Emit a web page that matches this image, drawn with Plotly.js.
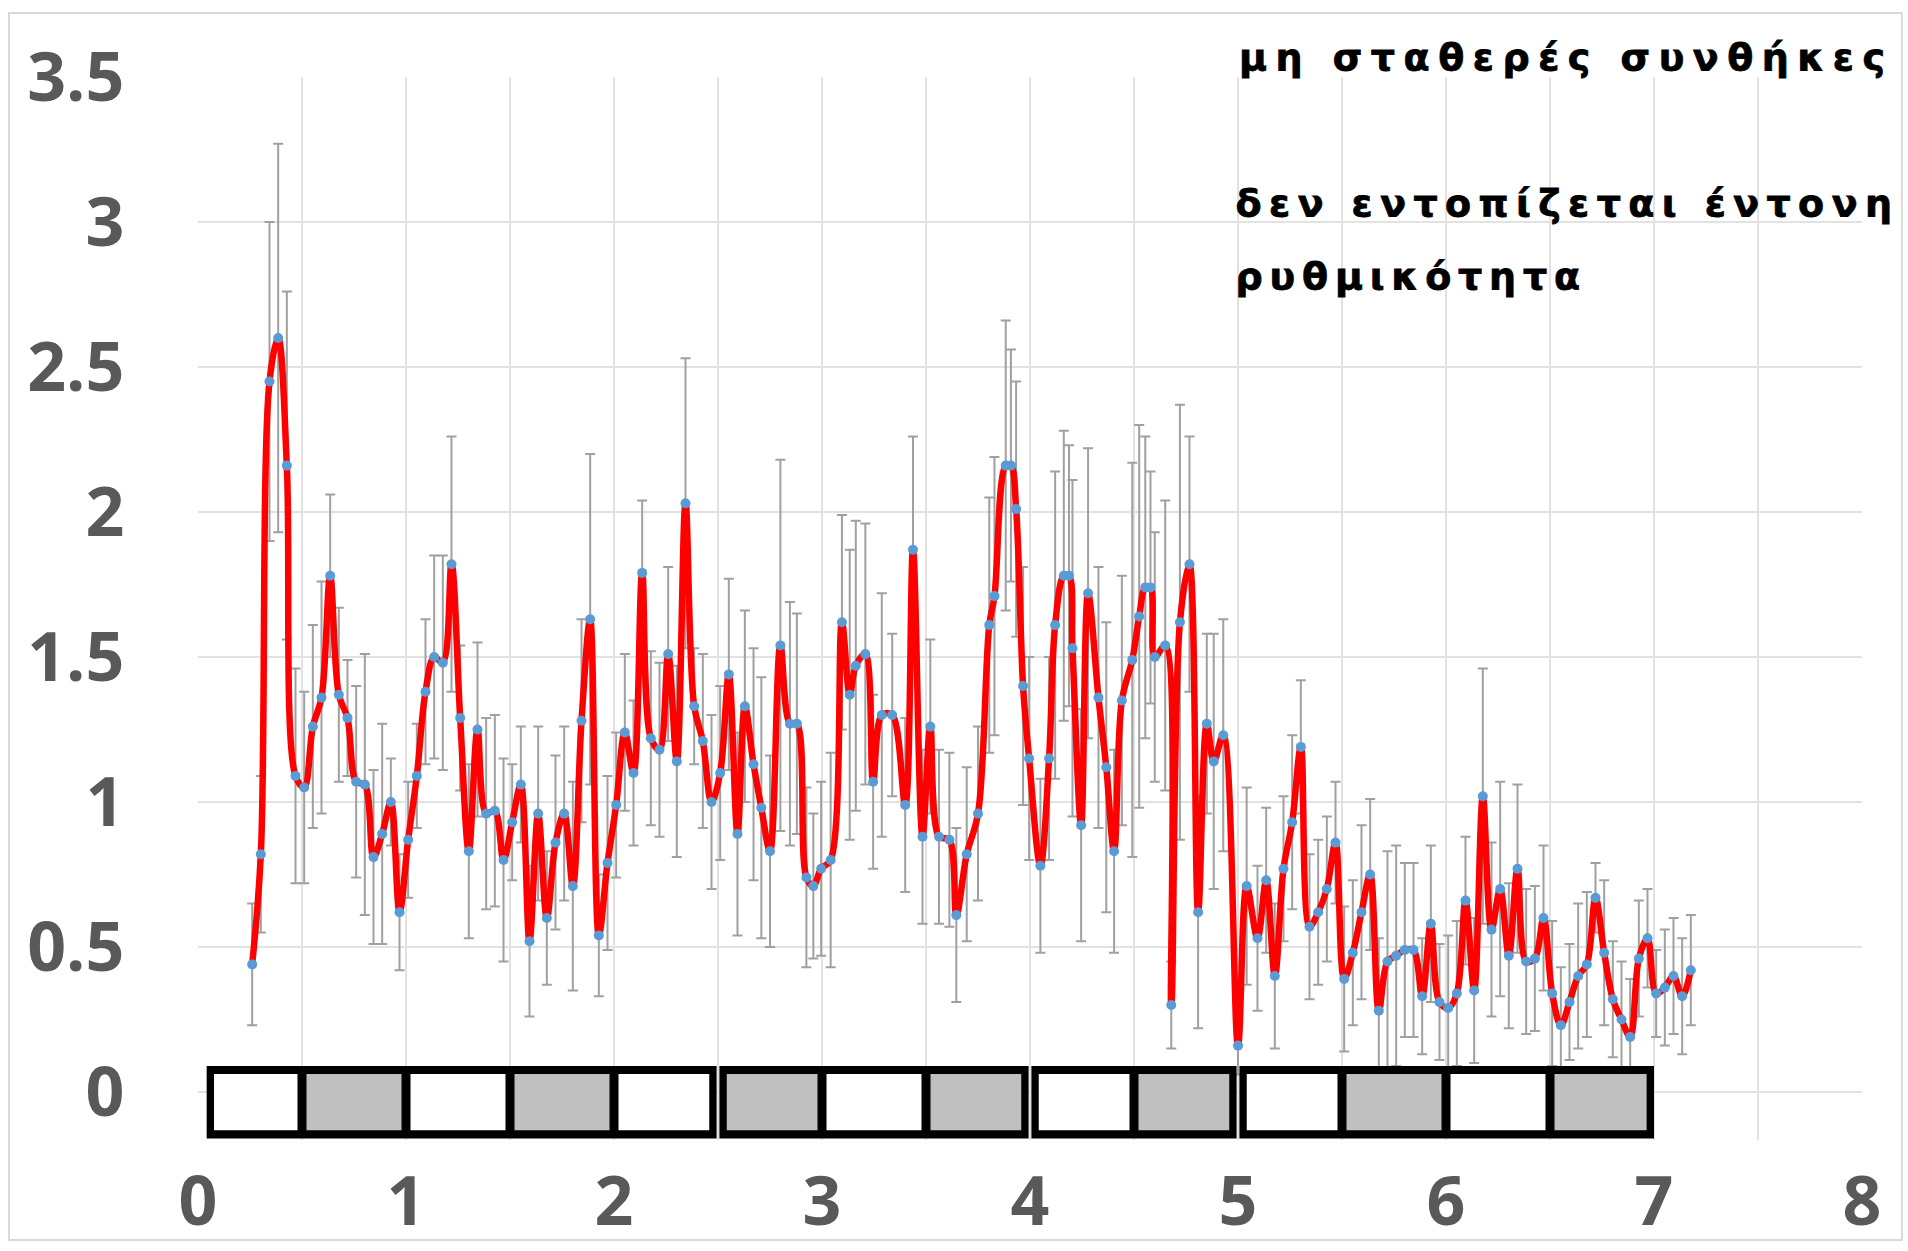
<!DOCTYPE html>
<html>
<head>
<meta charset="utf-8">
<script src="https://cdn.plot.ly/plotly-3.0.1.min.js"></script>
<style>
  html, body { margin: 0; padding: 0; background: #ffffff; }
  #chart { width: 1908px; height: 1251px; }
</style>
</head>
<body>
<div id="chart"></div>
<script>
// time of each sample, in hours from the start
const hours = [6.25,7.25,8.25,9.25,10.25,11.25,12.25,13.25,14.25,15.25,
16.25,17.25,18.25,19.25,20.25,21.25,22.25,23.25,24.25,25.25,
26.25,27.25,28.25,29.25,30.25,31.25,32.25,33.25,34.25,35.25,
36.25,37.25,38.25,39.25,40.25,41.25,42.25,43.25,44.25,45.25,
46.25,47.25,48.25,49.25,50.25,51.25,52.25,53.25,54.25,55.25,
56.25,57.25,58.25,59.25,60.25,61.25,62.25,
63.1,64.1,65.0,66.0,67.2,68.3,69.1,70.2,71.0,71.9,
73.0,74.3,75.2,75.9,77.0,77.9,78.9,80.1,81.6,82.5,
83.6,84.5,85.5,86.7,87.5,88.7,90.0,91.3,91.9,93.2,
93.8,94.4,95.2,95.9,97.2,98.2,98.9,99.9,100.5,100.9,
101.9,102.7,103.9,104.8,105.7,106.6,107.8,108.6,109.3,109.9,
110.4,111.6,112.3,113.3,114.4,115.4,116.4,117.2,118.3,120.0,
121.0,
122.25,123.25,124.25,125.25,126.25,127.25,128.25,129.25,130.25,131.25,
132.25,133.25,134.25,135.25,136.25,137.25,138.25,139.25,140.25,141.25,
142.25,143.25,144.25,145.25,146.25,147.25,148.25,149.25,150.25,151.25,
152.25,153.25,154.25,155.25,156.25,157.25,158.25,159.25,160.25,161.25,
162.25,163.25,164.25,165.25,166.25,167.25,168.25,169.25,170.25,171.25,
172.25];

// mean activity
const meanValue = [0.44,0.82,2.45,2.60,2.16,1.09,1.05,1.26,1.36,1.78,
1.37,1.29,1.07,1.06,0.81,0.89,1.00,0.62,0.87,1.09,
1.38,1.50,1.48,1.82,1.29,0.83,1.25,0.96,0.97,0.80,
0.93,1.06,0.52,0.96,0.60,0.86,0.96,0.71,1.28,1.63,
0.54,0.79,0.99,1.24,1.10,1.79,1.22,1.18,1.51,1.14,
2.03,1.33,1.21,1.00,1.10,1.44,0.89,
1.33,1.13,0.98,0.83,1.54,1.27,1.27,0.74,0.71,0.77,
0.80,1.62,1.37,1.47,1.51,1.07,1.30,1.30,0.99,1.87,
0.88,1.26,0.88,0.87,0.61,0.82,0.96,1.61,1.71,2.16,
2.16,2.01,1.40,1.15,0.78,1.15,1.61,1.78,1.78,1.53,
0.92,1.72,1.36,1.12,0.83,1.35,1.49,1.64,1.74,1.74,
1.50,1.54,0.30,1.62,1.82,0.62,1.27,1.14,1.23,0.16,
0.71,
0.53,0.73,0.40,0.77,0.93,1.19,0.57,0.62,0.70,0.86,
0.39,0.48,0.62,0.75,0.28,0.45,0.47,0.49,0.49,0.33,
0.58,0.31,0.29,0.34,0.66,0.35,1.02,0.56,0.70,0.47,
0.77,0.45,0.46,0.60,0.34,0.23,0.31,0.40,0.44,0.67,
0.48,0.32,0.25,0.19,0.46,0.53,0.34,0.36,0.40,0.33,
0.42];

// error (± half length of each bar)
const errorValue = [0.21,0.27,0.55,0.67,0.60,0.37,0.33,0.35,0.40,0.28,
0.30,0.20,0.33,0.45,0.30,0.38,0.15,0.20,0.20,0.18,
0.25,0.35,0.37,0.44,0.25,0.30,0.30,0.33,0.33,0.35,
0.20,0.20,0.26,0.30,0.23,0.30,0.30,0.36,0.35,0.57,
0.21,0.30,0.25,0.27,0.25,0.25,0.30,0.30,0.30,0.33,
0.50,0.20,0.30,0.30,0.30,0.33,0.35,
0.33,0.40,0.45,0.33,0.64,0.42,0.38,0.31,0.25,0.30,
0.37,0.37,0.50,0.50,0.45,0.30,0.42,0.28,0.30,0.39,
0.30,0.30,0.30,0.30,0.30,0.30,0.30,0.44,0.48,0.50,
0.40,0.44,0.41,0.35,0.30,0.35,0.53,0.50,0.45,0.58,
0.40,0.50,0.45,0.50,0.35,0.43,0.68,0.66,0.52,0.40,
0.43,0.50,0.15,0.75,0.44,0.40,0.31,0.44,0.40,0.10,
0.34,
0.25,0.25,0.25,0.25,0.30,0.23,0.25,0.25,0.25,0.21,
0.25,0.25,0.30,0.26,0.25,0.38,0.38,0.30,0.30,0.20,
0.27,0.20,0.25,0.25,0.22,0.25,0.44,0.30,0.37,0.25,
0.29,0.25,0.25,0.25,0.25,0.20,0.20,0.25,0.25,0.12,
0.25,0.20,0.20,0.20,0.20,0.17,0.15,0.20,0.20,0.20,
0.19];

// axis ticks (hours -> day labels)
const xTickHours = [0,24,48,72,96,120,144,168,192];
const xTickText = ['0','1','2','3','4','5','6','7','8'];
const yTickVals = [0,0.5,1,1.5,2,2.5,3,3.5];
const yTickText = ['0','0.5','1','1.5','2','2.5','3','3.5'];

// light / dark schedule (hours)
const phaseStart = [1,12,24,36,48,60,72,84,96,108,120,132,144,156];
const phaseEnd   = [12,24,36,48,60,72,84,96,108,120,132,144,156,168];
const phaseType  = ['L','D','L','D','L','D','L','D','L','D','L','D','L','D'];
// blocks of the schedule bar (protocol parts)
const blockStart = [1,60,96,120];
const blockEnd   = [60,96,120,168];

// annotation texts
const noteLines = ['μη σταθερές συνθήκες', 'δεν εντοπίζεται έντονη', 'ρυθμικότητα'];

// ---------- drawing ----------
const barY0 = -0.16, barY1 = 0.09;
const borderY = 0.028;      // horizontal border thickness in y units
const edgeGap = 0.16;       // half white gap between blocks (hours)
const outerBorder = 0.85;   // outer border thickness (hours)
const divHalf = 0.52;       // half divider thickness (hours)

const shapes = [];
// chart-area border
shapes.push({type:'rect', xref:'paper', yref:'paper', x0:-0.1136, x1:1.0240, y0:-0.0941, y1:1.0602,
  line:{color:'#d9d9d9', width:2}, fillcolor:'rgba(0,0,0,0)', layer:'below'});

for (let b = 0; b < blockStart.length; b++) {
  const s = blockStart[b] + (b === 0 ? 0 : edgeGap);
  const e = blockEnd[b] - (b === blockStart.length - 1 ? 0 : edgeGap);
  shapes.push({type:'rect', xref:'x', yref:'y', x0:s, x1:e, y0:barY0, y1:barY1,
    fillcolor:'#000000', line:{width:0}, layer:'above'});
}
for (let i = 0; i < phaseStart.length; i++) {
  const atBlockStart = blockStart.includes(phaseStart[i]);
  const atBlockEnd = blockEnd.includes(phaseEnd[i]);
  const x0 = phaseStart[i] + (atBlockStart ? outerBorder + (i === 0 ? 0 : edgeGap) : divHalf);
  const x1 = phaseEnd[i] - (atBlockEnd ? outerBorder + (phaseEnd[i] === 168 ? 0 : edgeGap) : divHalf);
  shapes.push({type:'rect', xref:'x', yref:'y', x0:x0, x1:x1,
    y0:barY0 + borderY, y1:barY1 - borderY,
    fillcolor: phaseType[i] === 'D' ? '#bfbfbf' : '#ffffff', line:{width:0}, layer:'above'});
}

const traces = [
  { // error bars
    x: hours, y: meanValue, type:'scatter', mode:'markers',
    marker:{size:2, color:'rgba(0,0,0,0)'},
    error_y:{type:'data', array:errorValue, visible:true, color:'#a0a0a0', thickness:2, width:5},
    hoverinfo:'skip', showlegend:false
  },
  { // smoothed red line
    x: hours, y: meanValue, type:'scatter', mode:'lines',
    line:{color:'#ff0000', width:6.5, shape:'spline', smoothing:1},
    showlegend:false
  },
  { // blue markers
    x: hours, y: meanValue, type:'scatter', mode:'markers',
    marker:{size:10, color:'#5b9bd5'},
    showlegend:false
  }
];

const tickFont = {family:'Open Sans, Noto Sans, sans-serif', size:68, color:'#595959', weight:700};
const noteFont = {family:'DejaVu Sans, sans-serif', size:38, color:'#000000', weight:'bold'};
const noteSpacing = ['8.5px', '7.4px', '6.8px'];

const layout = {
  width:1908, height:1251,
  margin:{l:198, r:46, t:77, b:111},
  paper_bgcolor:'#ffffff', plot_bgcolor:'#ffffff',
  showlegend:false,
  xaxis:{
    range:[0,192], tickvals:xTickHours, ticktext:xTickText,
    showgrid:true, gridcolor:'#e2e2e2', gridwidth:2,
    minor:{dtick:12, tick0:0, showgrid:true, gridcolor:'#e2e2e2', gridwidth:2},
    zeroline:false, showline:false,
    ticks:'outside', ticklen:2, tickcolor:'rgba(0,0,0,0)',
    tickfont:tickFont
  },
  yaxis:{
    range:[-0.1655,3.5], tickvals:yTickVals, ticktext:yTickText,
    showgrid:true, gridcolor:'#e2e2e2', gridwidth:2,
    zeroline:false, showline:false,
    ticks:'outside', ticklen:59, tickcolor:'rgba(0,0,0,0)',
    tickfont:tickFont
  },
  shapes: shapes,
  annotations:[
    {text:noteLines[0], xref:'paper', yref:'paper', x:0.8224, y:1.0192, xanchor:'center', yanchor:'middle', showarrow:false, font:noteFont},
    {text:noteLines[1], xref:'paper', yref:'paper', x:0.8230, y:0.8819, xanchor:'center', yanchor:'middle', showarrow:false, font:noteFont},
    {text:noteLines[2], xref:'paper', yref:'paper', x:0.7293, y:0.8132, xanchor:'center', yanchor:'middle', showarrow:false, font:noteFont}
  ]
};

Plotly.newPlot('chart', traces, layout, {displayModeBar:false, staticPlot:true}).then(function(){
  document.querySelectorAll('.annotation-text').forEach(function(t, i){
    t.setAttribute('letter-spacing', noteSpacing[i] || '8px');
    t.style.stroke = '#000000';
    t.style.strokeWidth = '0.8px';
  });
});
</script>
</body>
</html>
